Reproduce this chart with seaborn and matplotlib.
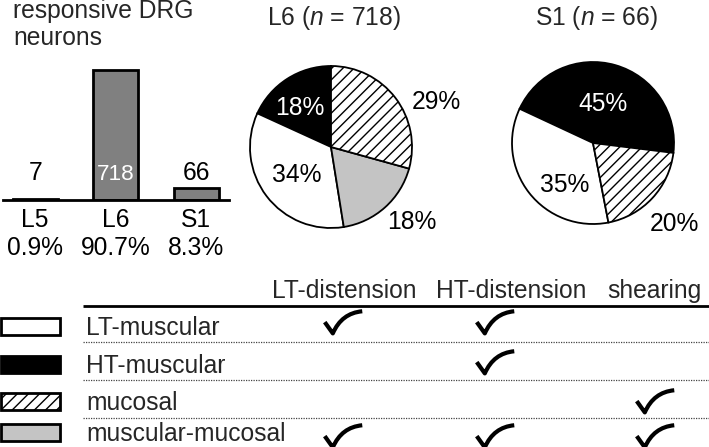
import matplotlib
matplotlib.use("Agg")
import matplotlib.pyplot as plt
import matplotlib.transforms as mtransforms
from matplotlib.path import Path
from matplotlib.patches import Rectangle
import seaborn as sns

# --- data -------------------------------------------------------------
segments = ["L5", "L6", "S1"]
neuron_counts = [7, 718, 66]
segment_share = ["0.9%", "90.7%", "8.3%"]

fiber_types = ["LT-muscular", "HT-muscular", "mucosal", "muscular-mucosal"]
l6_percent = [34, 18, 29, 18]
s1_percent = [35, 45, 20, 0]

stimuli = ["LT-distension", "HT-distension", "shearing"]
responds = [
    [True, True, False],
    [False, True, False],
    [False, False, True],
    [True, True, True],
]

# --- style ------------------------------------------------------------
type_face = {"LT-muscular": "white", "HT-muscular": "black",
             "mucosal": "white", "muscular-mucosal": "#c4c4c4"}
type_hatch = {"mucosal": "///"}
pie_order = ["HT-muscular", "LT-muscular", "muscular-mucosal", "mucosal"]

sns.set_theme(style="white")
plt.rcParams["font.family"] = ["Liberation Sans", "DejaVu Sans"]
plt.rcParams["mathtext.fontset"] = "custom"
plt.rcParams["mathtext.rm"] = "Liberation Sans"
plt.rcParams["mathtext.it"] = "Liberation Sans:italic"
plt.rcParams["hatch.linewidth"] = 1.0
plt.rcParams["hatch.color"] = "black"
FS = 17.7

W, H = 709, 447
fig = plt.figure(figsize=(W / 100, H / 100), dpi=100)


def px_axes(x0, y0, x1, y1):
    """axes from pixel box (top-left origin)"""
    return fig.add_axes([x0 / W, 1 - y1 / H, (x1 - x0) / W, (y1 - y0) / H])


# overlay for titles and the table
ax_t = px_axes(0, 0, W, H)
ax_t.set_xlim(0, W)
ax_t.set_ylim(H, 0)
ax_t.axis("off")

# --- bar chart --------------------------------------------------------
ax_b = px_axes(3, 60, 229, 200)
sns.barplot(x=segments, y=neuron_counts, ax=ax_b, color="#808080", saturation=1,
            width=0.56, edgecolor="black", linewidth=2)
ax_b.set_xlim(-0.40, 2.41)
ax_b.set_ylim(0, 773)
ax_b.set_yticks([])
ax_b.set_xlabel("")
ax_b.set_ylabel("")
for s in ["top", "left", "right"]:
    ax_b.spines[s].set_visible(False)
ax_b.spines["bottom"].set_linewidth(2)
ax_b.spines["bottom"].set_color("black")
ax_b.set_facecolor("none")
ax_b.set_xticks(range(len(segments)))
ax_b.set_xticklabels([f"{s}\n{p}" for s, p in zip(segments, segment_share)],
                     fontsize=FS, linespacing=1.2, color="black")
ax_b.tick_params(axis="x", length=0, pad=6)

trans = mtransforms.blended_transform_factory(ax_b.transData, ax_b.transAxes)
top = max(neuron_counts)
for i, c in enumerate(neuron_counts):
    ax_b.text(i, 0.143, str(c), transform=trans, ha="center", va="baseline",
              fontsize=FS - 1.5 if c == top else FS,
              color="white" if c == top else "black")

ax_t.text(13, 18, "responsive DRG", fontsize=FS, va="baseline", ha="left")
ax_t.text(13, 45, "neurons", fontsize=FS, va="baseline", ha="left")

# --- pies -------------------------------------------------------------
R = 81
pies = [
    ("L6", 718, l6_percent, (331, 147), 90,
     {"HT-muscular": (-0.38, 0.48), "LT-muscular": (-0.42, -0.35),
      "muscular-mucosal": (1.0, -0.93), "mucosal": (1.3, 0.55)}),
    ("S1", 66, s1_percent, (593, 143), -7,
     {"HT-muscular": (0.12, 0.48), "LT-muscular": (-0.35, -0.52),
      "mucosal": (1.0, -1.0)}),
]
for name, n, pct, (cx, cy), start, label_pos in pies:
    ax = px_axes(cx - 2.5 * R / 2, cy - 2.5 * R / 2, cx + 2.5 * R / 2, cy + 2.5 * R / 2)
    lookup = dict(zip(fiber_types, pct))
    keys = [k for k in pie_order if lookup[k] > 0]
    vals = [lookup[k] for k in keys]
    wedges, _ = ax.pie(vals, startangle=start, counterclock=True,
                       colors=[type_face[k] for k in keys],
                       wedgeprops=dict(edgecolor="black", linewidth=1.3))
    for w, k in zip(wedges, keys):
        if k in type_hatch:
            w.set_hatch(type_hatch[k])
        lx, ly = label_pos[k]
        ax.text(lx, ly, f"{lookup[k]}%", ha="center", va="center", fontsize=FS,
                color="white" if k == "HT-muscular" else "black")
    ax.set_xlim(-1.25, 1.25)
    ax.set_ylim(-1.25, 1.25)
    ax_t.text(cx + 3, 25, f"{name} ($\\it{{n}}$ = {n})", fontsize=FS,
              ha="center", va="baseline")

# --- table ------------------------------------------------------------
header_x = [344, 511, 654]
check_x = [343, 495, 655]
row_base = [335, 373, 410, 441]
check_y = [322, 362, 401, 436]
sep_y = [342, 380, 418]

for x, s in zip(header_x, stimuli):
    ax_t.text(x, 298, s, fontsize=FS, ha="center", va="baseline")
ax_t.plot([83, W], [306, 306], color="black", lw=2, solid_capstyle="butt")
for y in sep_y:
    ax_t.plot([83, W], [y, y], color="#444444", lw=0.9, ls=(0, (1, 1)))

for i, t in enumerate(fiber_types):
    b = row_base[i]
    ax_t.add_patch(Rectangle((1, b - 17), 59, 17, facecolor=type_face[t],
                             edgecolor="black", lw=2, hatch=type_hatch.get(t)))
    ax_t.text(86, b, t, fontsize=FS, ha="left", va="baseline")

check = Path([(-1.0, 0.02), (-0.57, -0.58), (-0.1, 0.5), (1.0, 0.6)],
             [Path.MOVETO, Path.LINETO, Path.CURVE3, Path.CURVE3])
for i, row in enumerate(responds):
    for j, ok in enumerate(row):
        if ok:
            ax_t.plot(check_x[j], check_y[i], marker=check, markersize=27,
                      markerfacecolor="none", markeredgecolor="black",
                      markeredgewidth=3)

fig.savefig("out.png", dpi=100)
